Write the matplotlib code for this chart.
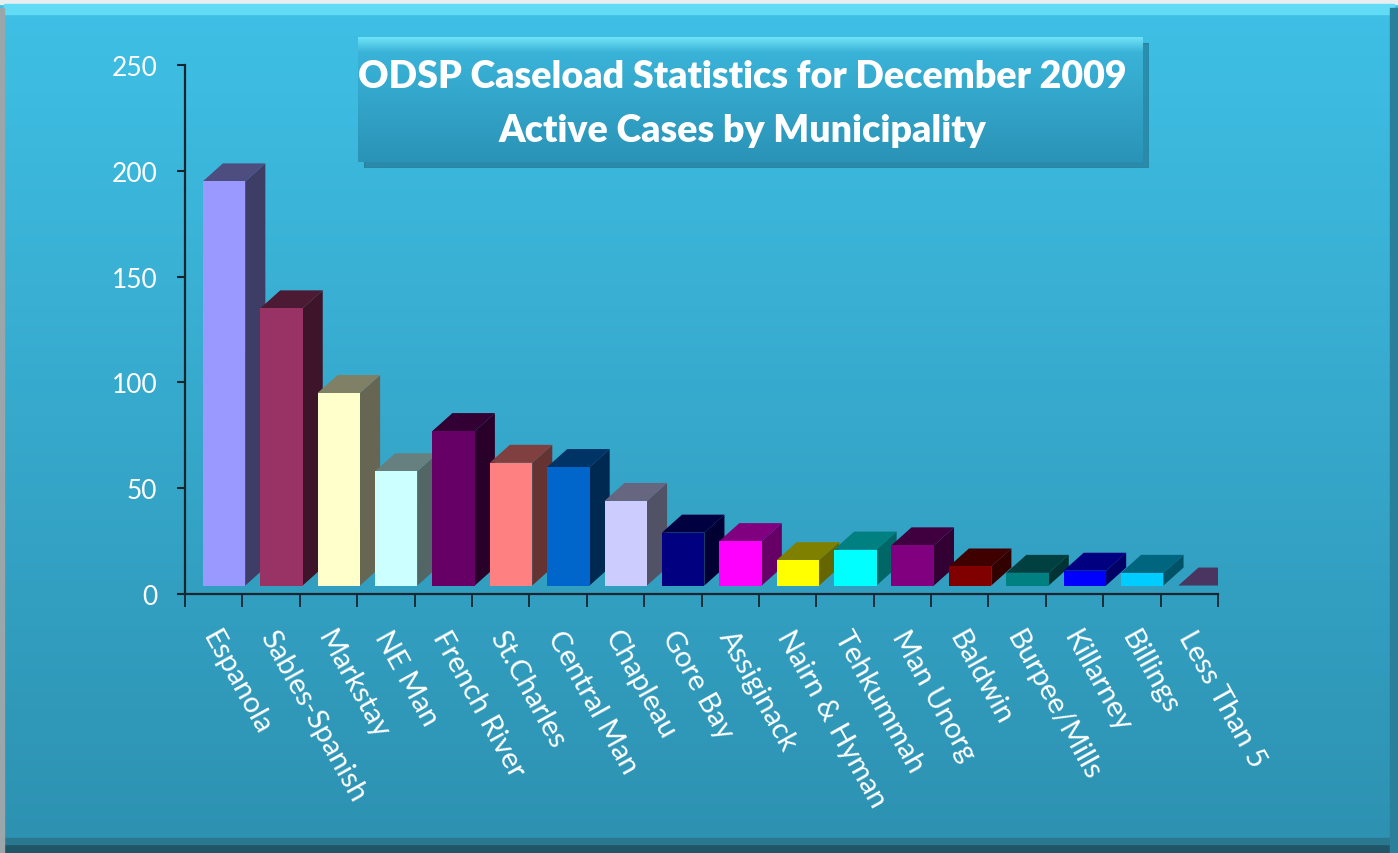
import numpy as np
import matplotlib
matplotlib.use('Agg')
import matplotlib.pyplot as plt
from matplotlib.patches import Rectangle
from matplotlib.colors import to_rgb

plt.rcParams['font.family'] = ['Lato', 'DejaVu Sans']

municipalities = ['Espanola', 'Sables-Spanish', 'Markstay', 'NE Man', 'French River',
                  'St.Charles', 'Central Man', 'Chapleau', 'Gore Bay', 'Assiginack',
                  'Nairn & Hyman', 'Tehkummah', 'Man Unorg', 'Baldwin', 'Burpee/Mills',
                  'Killarney', 'Billings', 'Less Than 5']
cases = [191, 131, 91, 54, 73, 58, 56, 40, 25, 21, 12, 17, 19, 9, 6, 7, 6, 0]
bar_colors = ['#9999ff', '#993366', '#ffffcc', '#ccffff', '#660066', '#ff8080',
              '#0066cc', '#ccccff', '#000080', '#ff00ff', '#ffff00', '#00ffff',
              '#800080', '#800000', '#008080', '#0000ff', '#00ccff', '#946ac2']
yticks = [0, 50, 100, 150, 200, 250]
title_lines = ['ODSP Caseload Statistics for December 2009', 'Active Cases by Municipality']

W, H = 1398, 854
fig = plt.figure(figsize=(W / 100, H / 100), dpi=100)

# background gradient and frame
bg = fig.add_axes([0, 0, 1, 1], zorder=-10)
top = np.array(to_rgb('#3fc0e6'))
bot = np.array(to_rgb('#2d91b1'))
t = np.linspace(0, 1, 256)[:, None]
grad = top * (1 - t) + bot * t
bg.imshow(grad[:, None, :], aspect='auto', extent=[0, 1, 0, 1])
bg.add_patch(Rectangle((0, 0.994), 1, 0.006, color='#e8eef0'))
bg.add_patch(Rectangle((0.003, 0.983), 0.994, 0.011, color='#62dcf6'))
bg.add_patch(Rectangle((0, 0), 1, 0.010, color='#1f5566'))
bg.add_patch(Rectangle((0.003, 0.010), 0.994, 0.008, color='#2a7890'))
bg.add_patch(Rectangle((0.994, 0), 0.006, 0.99, color='#2a7f9a'))
bg.add_patch(Rectangle((0, 0), 0.003, 0.99, color='#9aa6aa'))
bg.set_xlim(0, 1)
bg.set_ylim(0, 1)
bg.axis('off')

# chart axes
ax = fig.add_axes([185 / W, (H - 595) / H, (1218 - 185) / W, (595 - 66) / H])
ax.patch.set_alpha(0)
ax.set_xlim(0, len(cases))
ax.set_ylim(0, 250)

base = 4
fw = 0.74
fx = 0.31
dx = 0.35
dy = 8.5
for i, (v, c) in enumerate(zip(cases, bar_colors)):
    rgb = np.array(to_rgb(c))
    xl = i + fx
    xr = xl + fw
    ax.fill([xr, xr + dx, xr + dx, xr], [base, base + dy, base + v + dy, base + v],
            color=rgb * 0.4, lw=0, zorder=2 + i)
    ax.fill([xl, xl + dx, xr + dx, xr], [base + v, base + v + dy, base + v + dy, base + v],
            color=rgb * 0.5, lw=0, zorder=2 + i)
    if v > 0:
        ax.bar(xl, v, width=fw, bottom=base, align='edge', color=c, lw=0, zorder=2 + i)

for s in ['top', 'right']:
    ax.spines[s].set_visible(False)
for s in ['left', 'bottom']:
    ax.spines[s].set_color('#17262e')
    ax.spines[s].set_linewidth(1.6)

ax.set_yticks(yticks)
ax.tick_params(axis='y', direction='out', length=6, width=1.5, color='#17262e',
               labelcolor='white', labelsize=19, pad=14)
ax.set_xticks(np.arange(len(cases) + 1))
ax.set_xticklabels([])
ax.tick_params(axis='x', direction='out', length=9, width=1.3, color='#17262e')

for i, name in enumerate(municipalities):
    ax.text(i + 0.62, -15, name, rotation=-61, rotation_mode='anchor', ha='left', va='top',
            color='white', fontsize=21, clip_on=False)

# title box
tb = [358 / W, (H - 163) / H, (1143 - 358) / W, (163 - 38) / H]
sh = fig.add_axes([tb[0] + 6 / W, tb[1] - 6 / H, tb[2], tb[3]], zorder=4)
sh.add_patch(Rectangle((0, 0), 1, 1, color='#1d6f88', alpha=0.6))
sh.set_xlim(0, 1)
sh.set_ylim(0, 1)
sh.axis('off')
box = fig.add_axes(tb, zorder=5)
btop = np.array(to_rgb('#6fe3f7'))
bmid = np.array(to_rgb('#3ab3d8'))
bbot = np.array(to_rgb('#2a93b7'))
tt = np.linspace(0, 1, 256)[:, None]
bgrad = np.where(tt < 0.12, btop * (1 - tt / 0.12) + bmid * (tt / 0.12),
                 bmid * (1 - (tt - 0.12) / 0.88) + bbot * ((tt - 0.12) / 0.88))
box.imshow(bgrad[:, None, :], aspect='auto', extent=[0, 1, 0, 1])
box.set_xlim(0, 1)
box.set_ylim(0, 1)
box.axis('off')
box.text(0.49, 0.69, title_lines[0], ha='center', va='center', color='white',
         fontsize=27, fontweight='heavy')
box.text(0.49, 0.26, title_lines[1], ha='center', va='center', color='white',
         fontsize=27, fontweight='heavy')

fig.savefig('out.png', dpi=100)
